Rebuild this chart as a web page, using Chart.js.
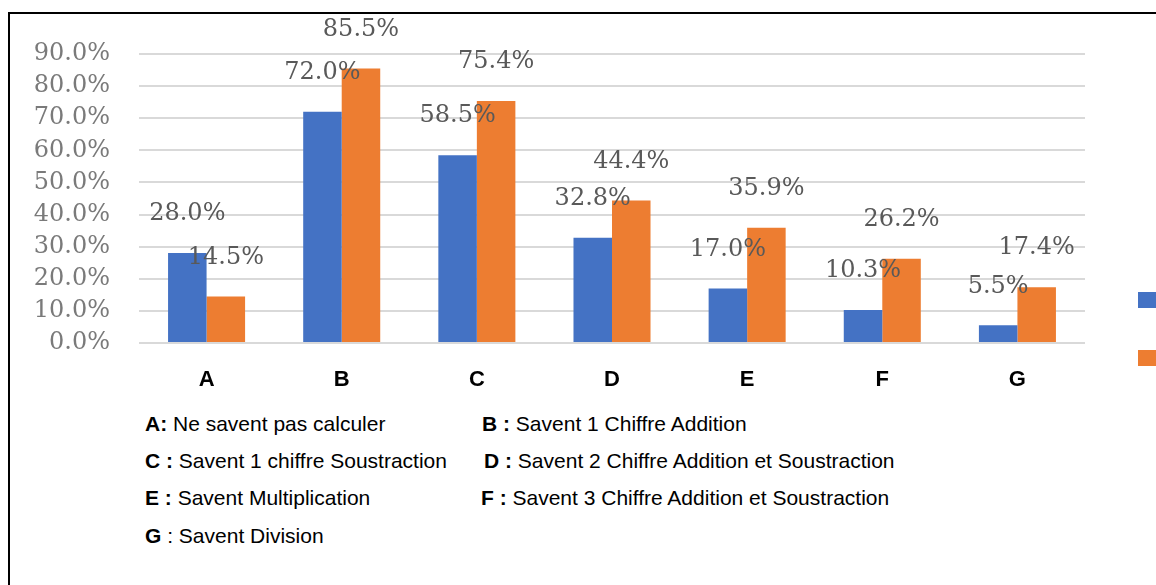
<!DOCTYPE html>
<html>
<head>
<meta charset="utf-8">
<script src="https://cdn.jsdelivr.net/npm/chart.js@4/dist/chart.umd.min.js"></script>
<style>
  body { margin: 0; width: 1156px; height: 585px; overflow: hidden; background: #fff; position: relative; }
  #cadre { position: absolute; left: 8px; top: 12px; width: 1160px; height: 590px; border-top: 2px solid #000; border-left: 2px solid #000; }
  #zone { position: absolute; left: 0; top: 0; width: 1156px; height: 400px; }
  .legende { position: absolute; font-family: "Liberation Sans", Arial, sans-serif; font-size: 21px; line-height: 24px; color: #000; white-space: nowrap; }
  .legende b { font-weight: bold; }
</style>
</head>
<body>
<div id="cadre"></div>
<div id="zone"><canvas id="graphique"></canvas></div>

<div class="legende" style="left:145px; top:412px"><b>A:</b> Ne savent pas calculer</div>
<div class="legende" style="left:482px; top:412px"><b>B :</b> Savent 1 Chiffre Addition</div>
<div class="legende" style="left:145px; top:449px"><b>C :</b> Savent 1 chiffre Soustraction</div>
<div class="legende" style="left:484px; top:449px"><b>D :</b> Savent 2 Chiffre Addition et Soustraction</div>
<div class="legende" style="left:145px; top:486px"><b>E :</b> Savent Multiplication</div>
<div class="legende" style="left:481px; top:486px"><b>F :</b> Savent 3 Chiffre Addition et Soustraction</div>
<div class="legende" style="left:145px; top:524px"><b>G</b> : Savent Division</div>

<script>
const categories = ["A", "B", "C", "D", "E", "F", "G"]
const serie1 = [28.0, 72.0, 58.5, 32.8, 17.0, 10.3, 5.5]
const serie2 = [14.5, 85.5, 75.4, 44.4, 35.9, 26.2, 17.4]
const nomsSeries = ["Série 1", "Série 2"]
const couleurs = ["#4472C4", "#ED7D31"]

// labels above each bar + legend squares on the right
const etiquettes = {
    id: 'etiquettes',
    afterDatasetsDraw(chart) {
        const c = chart.ctx
        c.save()
        c.font = '24px "DejaVu Serif"'
        c.fillStyle = '#595959'
        c.textAlign = 'center'
        c.textBaseline = 'middle'
        chart.data.datasets.forEach((ds, i) => {
            const meta = chart.getDatasetMeta(i)
            meta.data.forEach((bar, j) => {
                c.fillText(ds.data[j].toFixed(1) + '%', bar.x, bar.y - 39)
            })
        })
        // legend squares (texts are outside the picture)
        const ys = [292, 350]
        couleurs.forEach((col, i) => {
            c.fillStyle = col
            c.fillRect(1138, ys[i], 18, 16)
        })
        c.restore()
    }
}

new Chart(document.getElementById('graphique'), {
    type: 'bar',
    data: {
        labels: categories,
        datasets: [
            { label: nomsSeries[0], data: serie1, backgroundColor: couleurs[0], categoryPercentage: 0.57, barPercentage: 1 },
            { label: nomsSeries[1], data: serie2, backgroundColor: couleurs[1], categoryPercentage: 0.57, barPercentage: 1 }
        ]
    },
    options: {
        responsive: true,
        maintainAspectRatio: false,
        animation: false,
        layout: { padding: { left: 0, right: 71, top: 54, bottom: 0 } },
        plugins: { legend: { display: false }, tooltip: { enabled: false } },
        scales: {
            x: {
                grid: { display: false },
                border: { display: false },
                ticks: { color: '#000', font: { family: '"Liberation Sans", Arial', size: 22, weight: 'bold' }, padding: 16 },
                afterFit: s => { s.height = 57 }
            },
            y: {
                min: 0,
                max: 90,
                ticks: {
                    stepSize: 10,
                    color: '#7a7a7a',
                    padding: 29,
                    font: { family: '"DejaVu Serif"', size: 24 },
                    callback: v => v.toFixed(1) + '%'
                },
                grid: { color: '#d9d9d9', lineWidth: 2, drawTicks: false },
                border: { display: false },
                afterFit: s => { s.width = 139 }
            }
        }
    },
    plugins: [etiquettes]
})
</script>
</body>
</html>
